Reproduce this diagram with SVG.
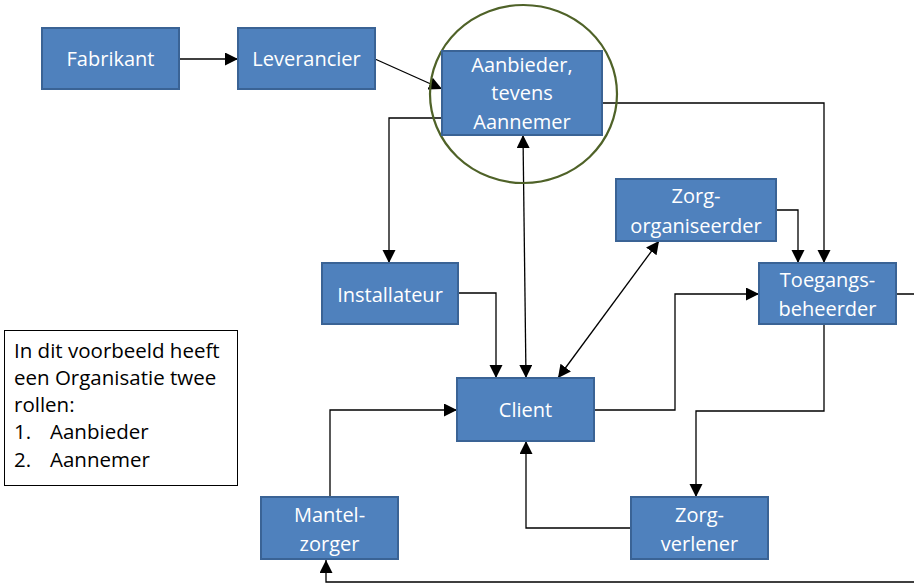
<svg xmlns="http://www.w3.org/2000/svg" width="914" height="586" viewBox="0 0 914 586">
  <style>
    .box { fill: #4F81BD; stroke: #3A6395; stroke-width: 2; }
    .lbl { font-family: "Open Sans", "Noto Sans", sans-serif; font-size: 20px; fill: #FFFFFF; text-anchor: middle; }
    .note { font-family: "Open Sans", "Noto Sans", sans-serif; font-size: 20.5px; fill: #000000; }
    .wire { fill: none; stroke: #000000; stroke-width: 1.3; }
  </style>
  <defs>
    <marker id="arrow" markerUnits="userSpaceOnUse" markerWidth="14" markerHeight="14" refX="13" refY="6.5" orient="auto-start-reverse">
      <path d="M0,0 L13,6.5 L0,13 z" fill="#000000"/>
    </marker>
  </defs>
  <rect width="914" height="586" fill="#FFFFFF"/>

  <!-- connectors -->
  <g id="connectors">
    <path class="wire" d="M179,59 H238" marker-end="url(#arrow)"/>
    <path class="wire" d="M375,59 L442,89" marker-end="url(#arrow)"/>
    <path class="wire" d="M442,118 H389 V263" marker-end="url(#arrow)"/>
    <path class="wire" d="M523,135 L526,378" marker-start="url(#arrow)" marker-end="url(#arrow)"/>
    <path class="wire" d="M602,103 H824 V263" marker-end="url(#arrow)"/>
    <path class="wire" d="M776,210 H798 V263" marker-end="url(#arrow)"/>
    <path class="wire" d="M458,293 H496 V378" marker-end="url(#arrow)"/>
    <path class="wire" d="M558,378 L659,241" marker-start="url(#arrow)" marker-end="url(#arrow)"/>
    <path class="wire" d="M594,410 H675 V294 H759" marker-end="url(#arrow)"/>
    <path class="wire" d="M824,324 V411 H696 V497" marker-end="url(#arrow)"/>
    <path class="wire" d="M631,528 H526 V441" marker-end="url(#arrow)"/>
    <path class="wire" d="M330,497 V410 H457" marker-end="url(#arrow)"/>
    <path class="wire" d="M896,294 H920 V582 H326 V560" marker-end="url(#arrow)"/>
  </g>

  <!-- highlighted organisation -->
  <ellipse id="highlight" cx="523.5" cy="94" rx="93.5" ry="89" fill="none" stroke="#4F6228" stroke-width="2.2"/>

  <g id="fabrikant">
    <rect class="box" x="42" y="28" width="137" height="61"/>
    <text class="lbl" x="110.5" y="66">Fabrikant</text>
  </g>
  <g id="leverancier">
    <rect class="box" x="238" y="28" width="137" height="61"/>
    <text class="lbl" x="306.5" y="66">Leverancier</text>
  </g>
  <g id="aanbieder">
    <rect class="box" x="442" y="51" width="160" height="84"/>
    <text class="lbl" x="522" y="72">Aanbieder,</text>
    <text class="lbl" x="522" y="100">tevens</text>
    <text class="lbl" x="522" y="129">Aannemer</text>
  </g>
  <g id="zorgorganiseerder">
    <rect class="box" x="616" y="179" width="160" height="62"/>
    <text class="lbl" x="696" y="203">Zorg-</text>
    <text class="lbl" x="696" y="233">organiseerder</text>
  </g>
  <g id="toegangsbeheerder">
    <rect class="box" x="759" y="263" width="137" height="61"/>
    <text class="lbl" x="827.5" y="287">Toegangs-</text>
    <text class="lbl" x="827.5" y="316">beheerder</text>
  </g>
  <g id="installateur">
    <rect class="box" x="322" y="263" width="136" height="61"/>
    <text class="lbl" x="390" y="302">Installateur</text>
  </g>
  <g id="client">
    <rect class="box" x="457" y="378" width="137" height="63"/>
    <text class="lbl" x="525.5" y="417">Client</text>
  </g>
  <g id="mantelzorger">
    <rect class="box" x="261" y="497" width="137" height="62"/>
    <text class="lbl" x="329.5" y="522">Mantel-</text>
    <text class="lbl" x="329.5" y="551">zorger</text>
  </g>
  <g id="zorgverlener">
    <rect class="box" x="631" y="497" width="137" height="62"/>
    <text class="lbl" x="699.5" y="522">Zorg-</text>
    <text class="lbl" x="699.5" y="551">verlener</text>
  </g>

  <g id="toelichting">
    <rect x="4.5" y="330.5" width="233" height="155" fill="#FFFFFF" stroke="#000000" stroke-width="1"/>
    <text class="note" x="14" y="358">In dit voorbeeld heeft</text>
    <text class="note" x="14" y="385">een Organisatie twee</text>
    <text class="note" x="14" y="412">rollen:</text>
    <text class="note" x="14" y="439">1.</text>
    <text class="note" x="50" y="439">Aanbieder</text>
    <text class="note" x="14" y="467">2.</text>
    <text class="note" x="50" y="467">Aannemer</text>
  </g>
</svg>
